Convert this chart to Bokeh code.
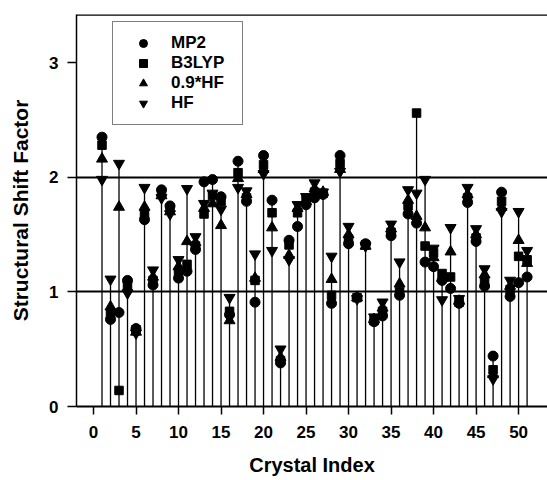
import numpy as np
from bokeh.plotting import figure
from bokeh.models import FixedTicker, Legend, LegendItem, Range1d, Span
from bokeh.embed import file_html
from bokeh.resources import INLINE

crystal = list(range(1, 52))

mp2 = [2.35, 0.76, 0.82, 1.10, 0.68, 1.63, 1.06, 1.89, 1.75, 1.12,
       1.18, 1.37, 1.96, 1.98, 1.83, 0.80, 2.14, 1.79, 0.91, 2.19,
       1.80, 0.38, 1.45, 1.57, 1.76, 1.82, 1.85, 0.90, 2.19, 1.42,
       0.95, 1.42, 0.74, 0.79, 1.49, 0.97, 1.68, 1.60, 1.26, 1.22,
       1.10, 1.03, 0.90, 1.78, 1.44, 1.05, 0.44, 1.87, 0.96, 1.08, 1.13]

b3lyp = [2.28, 0.81, 0.14, 1.06, 0.67, 1.68, 1.10, 1.86, 1.72, 1.18,
         1.24, 1.40, 1.68, 1.84, 1.79, 0.83, 2.04, 1.82, 1.10, 2.11,
         1.69, 0.40, 1.41, 1.69, 1.81, 1.87, 1.86, 0.97, 2.12, 1.46,
         0.95, 1.41, 0.75, 0.83, 1.52, 1.00, 1.75, 2.56, 1.40, 1.34,
         1.16, 1.13, 0.91, 1.82, 1.47, 1.10, 0.32, 1.79, 1.02, 1.31, 1.28]

hf09 = [2.16, 0.87, 1.74, 1.03, 0.65, 1.74, 1.13, 1.84, 1.70, 1.22,
        1.44, 1.43, 1.73, 1.77, 1.58, 0.75, 1.99, 1.85, 1.12, 2.07,
        1.56, 0.43, 1.32, 1.73, 1.79, 1.90, 1.87, 1.11, 2.07, 1.50,
        0.95, 1.40, 0.76, 0.86, 1.55, 1.07, 1.80, 1.66, 1.56, 1.30,
        1.12, 1.35, 0.92, 1.85, 1.50, 1.15, 0.28, 1.74, 1.05, 1.45, 1.25]

hf = [1.98, 1.11, 2.12, 0.99, 0.64, 1.91, 1.19, 1.82, 1.68, 1.28,
      1.90, 1.48, 1.77, 1.86, 1.72, 0.95, 1.91, 1.88, 1.33, 2.03,
      1.36, 0.50, 1.28, 1.76, 1.83, 1.95, 1.87, 1.31, 2.05, 1.57,
      0.94, 1.40, 0.78, 0.91, 1.59, 1.26, 1.89, 1.86, 1.98, 1.38,
      0.93, 1.56, 0.94, 1.91, 1.55, 1.20, 0.24, 1.70, 1.10, 1.70, 1.36]

x_ticks = list(range(0, 51, 5))
y_ticks = [0, 1, 2, 3]
grid_levels = [1, 2]

FONT = "Liberation Sans"

p = figure(width=547, height=480, output_backend="svg", toolbar_location=None,
           x_range=Range1d(-2, 53.4), y_range=Range1d(0, 3.42),
           min_border_left=76, min_border_right=0, min_border_top=14,
           min_border_bottom=74, background_fill_color="white",
           border_fill_color="white")
p.outline_line_color = None

# grid lines at 1 and 2 only
p.xgrid.visible = False
p.ygrid.ticker = FixedTicker(ticks=grid_levels)
p.ygrid.grid_line_color = "black"
p.ygrid.grid_line_width = 2
p.ygrid.grid_line_alpha = 1.0

top = Span(location=3.42, dimension="width", line_color="black", line_width=2.5)
p.add_layout(top)

# drop lines
top_vals = np.maximum.reduce([np.array(mp2), np.array(b3lyp), np.array(hf09), np.array(hf)])
p.segment(x0=crystal, y0=[0] * len(crystal), x1=crystal, y1=top_vals,
          line_color="black", line_width=1.3)

r_mp2 = p.scatter(crystal, mp2, marker="circle", size=10, color="black")
r_b3 = p.scatter(crystal, b3lyp, marker="square", size=8.5, color="black")
r_09 = p.scatter(crystal, hf09, marker="triangle", size=11, color="black")
r_hf = p.scatter(crystal, hf, marker="inverted_triangle", size=11, color="black")

legend = Legend(items=[LegendItem(label="MP2", renderers=[r_mp2]),
                       LegendItem(label="B3LYP", renderers=[r_b3]),
                       LegendItem(label="0.9*HF", renderers=[r_09]),
                       LegendItem(label="HF", renderers=[r_hf])],
                location=(36, 281), margin=0, padding=11, spacing=0,
                glyph_width=38, glyph_height=20, label_height=20,
                label_width=60, label_standoff=9,
                label_text_font=FONT, label_text_font_style="bold",
                label_text_font_size="17px", label_text_color="black",
                border_line_color="black", border_line_width=1.5,
                background_fill_alpha=1.0)
p.add_layout(legend, "center")

# axes
for ax in (p.xaxis[0], p.yaxis[0]):
    ax.axis_line_color = "black"
    ax.major_tick_line_color = "black"
    ax.minor_tick_line_color = None
    ax.major_tick_in = 0
    ax.major_label_text_font = FONT
    ax.major_label_text_font_style = "bold"
    ax.major_label_text_font_size = "17px"
    ax.major_label_text_color = "black"
    ax.axis_label_text_font = FONT
    ax.axis_label_text_font_style = "bold"
    ax.axis_label_text_color = "black"

p.xaxis.ticker = FixedTicker(ticks=x_ticks)
p.xaxis.axis_line_width = 2
p.xaxis.major_tick_line_width = 1.5
p.xaxis.major_tick_out = 8
p.xaxis.major_label_standoff = 11
p.xaxis.axis_label = "Crystal Index"
p.xaxis.axis_label_text_font_size = "20px"
p.xaxis.axis_label_standoff = 13

p.yaxis.ticker = FixedTicker(ticks=y_ticks)
p.yaxis.axis_line_width = 1.5
p.yaxis.major_tick_line_width = 1.5
p.yaxis.major_tick_out = 9
p.yaxis.major_label_standoff = 9
p.yaxis.axis_label = "Structural Shift Factor"
p.yaxis.axis_label_text_font_size = "21px"
p.yaxis.axis_label_standoff = 14

open("out.html", "w").write(file_html(p, INLINE))
